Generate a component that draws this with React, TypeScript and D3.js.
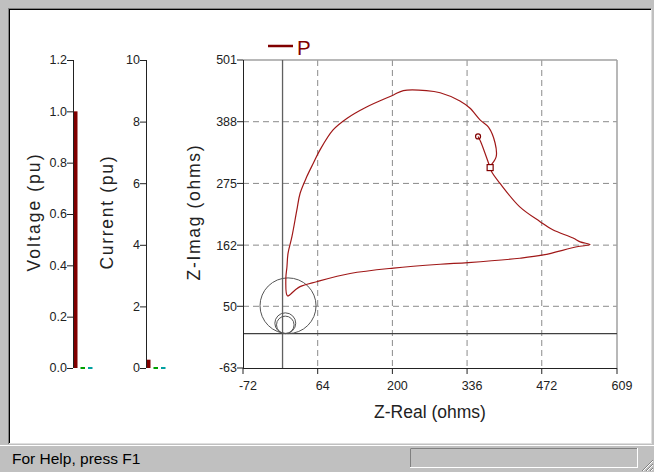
import React from "react";
import * as d3 from "d3";

const phases = ["A", "B", "C"];
const phaseColors = ["#800000", "#00a000", "#00a0a0"];
const voltageValues = [1.0, 0, 0];
const currentValues = [0.27, 0, 0];
const voltageTicks = [0, 0.2, 0.4, 0.6, 0.8, 1.0, 1.2];
const currentTicks = [0, 2, 4, 6, 8, 10];
const zRealTicks = [-72, 64, 200, 336, 472, 609];
const zImagTicks = [-63, 50, 162, 275, 388, 501];

// apparent impedance trajectory seen by element P (ohms)
const trajReal = [356, 361, 378, 381, 396, 432, 469, 492, 529, 542, 560, 536, 475, 432, 338, 287, 202, 123, 62, 32, 23, 9, 6, 8, 10, 17, 26, 32, 44, 56, 68, 92, 117, 153, 202, 220, 262, 287, 323, 341, 360, 375, 387, 389, 380];
const trajImag = [361, 351, 304, 296, 275, 232, 205, 190, 175, 168, 163, 159, 144, 138, 130, 127, 120, 110, 95, 86, 80, 69, 101, 122, 147, 177, 226, 257, 287, 312, 336, 373, 394, 415, 437, 445, 445, 441, 426, 413, 391, 378, 349, 324, 309];

// mho zone circles
const zoneReal = [10, 5, 5];
const zoneImag = [51, 19, 16];
const zoneRadius = [51, 19, 16];

const font = "'Liberation Sans', Arial, sans-serif";
const red = "#800000";

function BarPanel({ axisX, scale, ticks, values, fmt, title, titleX, titleLen }) {
  const band = d3.scaleBand().domain(phases).range([0, 19.5]).paddingInner(0.4);
  const [y0, y1] = scale.range();
  return (
    <g>
      {values.map((v, i) => {
        const h = Math.max(y0 - scale(v), 2);
        return (
          <rect key={i} x={axisX + band(phases[i])} y={Math.min(scale(v), y0 - 1)}
            width={band.bandwidth()} height={h} fill={phaseColors[i]} />
        );
      })}
      <line x1={axisX + 0.5} x2={axisX + 0.5} y1={y1} y2={y0} stroke="#222" />
      {ticks.map((t) => (
        <g key={t}>
          <line x1={axisX - 6} x2={axisX} y1={scale(t) + 0.5} y2={scale(t) + 0.5} stroke="#222" />
          <text x={axisX - 6} y={scale(t)} dy="0.35em" textAnchor="end" fontSize={12.5} fill="#222">
            {fmt(t)}
          </text>
        </g>
      ))}
      <text transform={`translate(${titleX},213) rotate(-90)`} textAnchor="middle" fontSize={17.5}
        textLength={titleLen} lengthAdjust="spacing" fill="#222">{title}</text>
    </g>
  );
}

export default function App() {
  const vTop = 60, vBottom = 368;
  const yVolt = d3.scaleLinear().domain([0, 1.2]).range([vBottom, vTop]);
  const yCurr = d3.scaleLinear().domain([0, 10]).range([vBottom, vTop]);

  const plot = { left: 243, right: 617, top: 60, bottom: 368 };
  const x = d3.scaleLinear().domain([zRealTicks[0], zRealTicks[5]]).range([plot.left, plot.right]);
  const y = d3.scaleLinear().domain([zImagTicks[0], zImagTicks[5]]).range([plot.bottom, plot.top]);
  const pts = trajReal.map((r, i) => [x(r), y(trajImag[i])] as [number, number]);
  const line = d3.line().curve(d3.curveCatmullRom.alpha(0.5));
  const sq = pts[2];

  return (
    <svg width={654} height={472} style={{ position: "absolute", left: 0, top: 0 }} fontFamily={font}>
      {/* window frame */}
      <rect width={654} height={472} fill="#c0c0c0" />
      <rect x={10} y={10} width={641} height={433} fill="#fff" />
      <line x1={8} x2={651} y1={8.5} y2={8.5} stroke="#808080" />
      <line x1={9} x2={651} y1={9.5} y2={9.5} stroke="#000" />
      <line x1={8.5} x2={8.5} y1={8} y2={444} stroke="#808080" />
      <line x1={9.5} x2={9.5} y1={9} y2={443} stroke="#000" />
      <line x1={651.5} x2={651.5} y1={9} y2={444} stroke="#dfdfdf" />
      <line x1={9} x2={652} y1={443.5} y2={443.5} stroke="#dfdfdf" />
      <line x1={0} x2={654} y1={445.5} y2={445.5} stroke="#fff" />
      <text x={12} y={464} fontSize={15.5} fill="#000">For Help, press F1</text>
      <rect x={410.5} y={448.5} width={227} height={19} fill="none" stroke="#fff" />
      <path d="M410.5,467 V448.5 H637" fill="none" stroke="#808080" />
      {[0, 4, 8].map((o) => (
        <g key={o}>
          <line x1={642 + o} x2={653} y1={471} y2={460 + o} stroke="#808080" />
          <line x1={643 + o} x2={653} y1={471} y2={461 + o} stroke="#fff" />
        </g>
      ))}

      <BarPanel axisX={73} scale={yVolt} ticks={voltageTicks} values={voltageValues}
        fmt={d3.format(".1f")} title="Voltage (pu)" titleX={40} titleLen={117} />
      <BarPanel axisX={146} scale={yCurr} ticks={currentTicks} values={currentValues}
        fmt={d3.format("d")} title="Current (pu)" titleX={113} titleLen={113} />

      {/* impedance plane */}
      {zRealTicks.slice(1, -1).map((t) => (
        <line key={t} x1={x(t)} x2={x(t)} y1={plot.top} y2={plot.bottom} stroke="#8a8a8a" strokeDasharray="6,4" />
      ))}
      {zImagTicks.slice(1, -1).map((t) => (
        <line key={t} x1={plot.left} x2={plot.right} y1={y(t)} y2={y(t)} stroke="#8a8a8a" strokeDasharray="6,4" />
      ))}
      <line x1={plot.left} x2={plot.right} y1={plot.top} y2={plot.top} stroke="#a0a0a0" strokeWidth={1.5} />
      <line x1={plot.right} x2={plot.right} y1={plot.top} y2={plot.bottom} stroke="#a0a0a0" strokeWidth={1.5} />
      <line x1={x(0)} x2={x(0)} y1={plot.top} y2={plot.bottom} stroke="#606060" strokeWidth={1.3} />
      <line x1={plot.left} x2={plot.right} y1={y(0)} y2={y(0)} stroke="#404040" strokeWidth={1.2} />
      {zoneReal.map((r, i) => (
        <ellipse key={i} cx={x(r)} cy={y(zoneImag[i])}
          rx={x(r + zoneRadius[i]) - x(r)} ry={y(zoneImag[i]) - y(zoneImag[i] + zoneRadius[i])}
          fill="none" stroke="#555" strokeWidth={1} />
      ))}
      <path d={line(pts) || ""} fill="none" stroke="#a01818" strokeWidth={1.2} />
      <circle cx={pts[0][0]} cy={pts[0][1]} r={2.5} fill="none" stroke={red} strokeWidth={1.2} />
      <rect x={sq[0] - 3} y={sq[1] - 3} width={6} height={6} fill="#fff" stroke={red} strokeWidth={1.2} />

      <line x1={plot.left + 0.5} x2={plot.left + 0.5} y1={plot.top} y2={plot.bottom + 1} stroke="#222" />
      <line x1={plot.left} x2={plot.right} y1={plot.bottom + 0.5} y2={plot.bottom + 0.5} stroke="#222" />
      {zRealTicks.map((t) => (
        <g key={t}>
          <line x1={x(t)} x2={x(t)} y1={plot.bottom} y2={plot.bottom + 6} stroke="#222" />
          <text x={x(t) + 5} y={390} textAnchor="middle" fontSize={12.5} fill="#222">{t}</text>
        </g>
      ))}
      {zImagTicks.map((t) => (
        <g key={t}>
          <line x1={plot.left - 6} x2={plot.left} y1={y(t)} y2={y(t)} stroke="#222" />
          <text x={plot.left - 6} y={y(t)} dy="0.35em" textAnchor="end" fontSize={12.5} fill="#222">{t}</text>
        </g>
      ))}
      <text x={430} y={418} textAnchor="middle" fontSize={17.5} fill="#222">Z-Real (ohms)</text>
      <text transform="translate(200,213) rotate(-90)" textAnchor="middle" fontSize={17.5}
        textLength={135} lengthAdjust="spacing" fill="#222">Z-Imag (ohms)</text>

      {/* legend */}
      <line x1={268} x2={293} y1={46} y2={46} stroke={red} strokeWidth={2.5} />
      <text x={297} y={55} fontSize={20.5} fill={red}>P</text>
    </svg>
  );
}
